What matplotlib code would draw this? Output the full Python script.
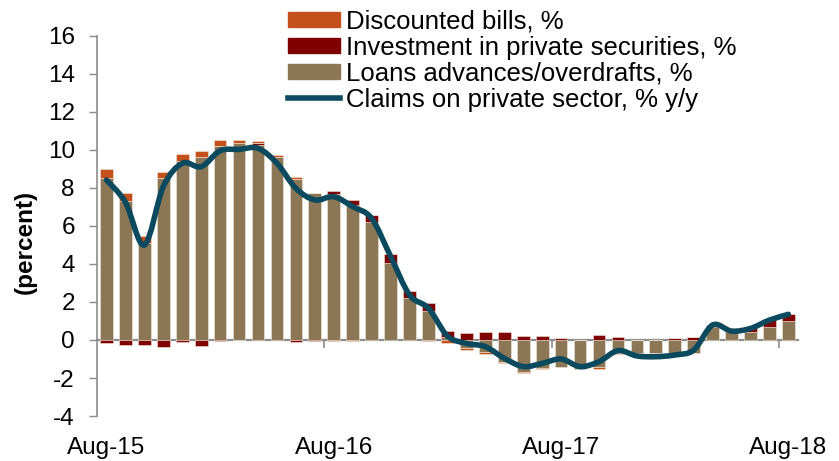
import numpy as np
import matplotlib.pyplot as plt
from matplotlib.path import Path
from matplotlib.patches import PathPatch, Patch
from matplotlib.lines import Line2D

plt.rcParams['font.family'] = ['Liberation Sans', 'DejaVu Sans']
plt.rcParams['axes.unicode_minus'] = False

# Monthly data, Aug-15 .. Aug-18
months = ['Aug-15', 'Sep-15', 'Oct-15', 'Nov-15', 'Dec-15', 'Jan-16', 'Feb-16',
          'Mar-16', 'Apr-16', 'May-16', 'Jun-16', 'Jul-16', 'Aug-16', 'Sep-16',
          'Oct-16', 'Nov-16', 'Dec-16', 'Jan-17', 'Feb-17', 'Mar-17', 'Apr-17',
          'May-17', 'Jun-17', 'Jul-17', 'Aug-17', 'Sep-17', 'Oct-17', 'Nov-17',
          'Dec-17', 'Jan-18', 'Feb-18', 'Mar-18', 'Apr-18', 'May-18', 'Jun-18',
          'Jul-18', 'Aug-18']

loans = [8.55, 7.33, 5.12, 8.50, 9.42, 9.61, 10.21, 10.35, 10.25, 9.65, 8.49,
         7.75, 7.68, 7.10, 6.23, 4.07, 2.21, 1.54, 0.18, -0.44, -0.61, -1.14,
         -1.67, -1.49, -1.40, -1.53, -1.44, -0.70, -0.70, -0.70, -0.84, -0.70,
         0.67, 0.44, 0.44, 0.70, 1.02]
securities = [-0.15, -0.25, -0.25, -0.35, -0.10, -0.30, -0.05, -0.02, 0.10, 0.0,
              -0.10, -0.03, 0.16, 0.27, 0.33, 0.47, 0.35, 0.39, 0.28, 0.35, 0.42,
              0.40, 0.21, 0.19, 0.09, 0.0, 0.25, 0.14, 0.0, 0.02, 0.09, 0.14,
              0.10, 0.09, 0.23, 0.35, 0.35]
bills = [0.45, 0.40, 0.35, 0.32, 0.37, 0.32, 0.30, 0.18, 0.10, 0.10, 0.07,
         0.0, -0.03, -0.05, 0.0, 0.0, 0.0, -0.05, -0.14, -0.09, -0.11, -0.06,
         -0.05, -0.05, 0.0, 0.0, -0.06, -0.05, 0.0, 0.0, 0.0, 0.0,
         0.0, 0.0, 0.0, 0.0, 0.0]
claims = [8.42, 7.25, 5.0, 8.07, 9.3, 9.12, 9.96, 10.03, 10.09, 9.3, 7.98,
          7.37, 7.54, 7.02, 6.4, 4.4, 2.37, 1.67, 0.21, -0.18, -0.35, -0.96,
          -1.40, -1.23, -1.0, -1.40, -1.14, -0.56, -0.84, -0.88, -0.79, -0.53,
          0.79, 0.47, 0.61, 1.05, 1.35]

c_bills = '#C4511C'
c_sec = '#7F0000'
c_loans = '#8B7756'
c_line = '#0B4A5E'
c_axis = '#8c8c8c'

fig = plt.figure(figsize=(8.39, 4.61), dpi=100)
ax = fig.add_axes([0.1156, 0.0976, 0.8354, 0.8244])

x = np.arange(len(months))
pos_base = np.zeros(len(x))
neg_base = np.zeros(len(x))
# positive parts stack upward from zero, negative parts downward
for vals, col in [(loans, c_loans), (securities, c_sec), (bills, c_bills)]:
    v = np.array(vals)
    base = np.where(v >= 0, pos_base, neg_base)
    ax.bar(x, v, bottom=base, width=0.67, color=col,
           edgecolor='#efe8dc', linewidth=0.4, zorder=2)
    pos_base += np.where(v >= 0, v, 0)
    neg_base += np.where(v < 0, v, 0)

# smoothed line (Catmull-Rom as cubic Bezier segments)
pts = np.column_stack([x, claims]).astype(float)
verts = [pts[0]]
codes = [Path.MOVETO]
for i in range(len(pts) - 1):
    p0 = pts[max(i - 1, 0)]
    p1 = pts[i]
    p2 = pts[i + 1]
    p3 = pts[min(i + 2, len(pts) - 1)]
    verts += [p1 + (p2 - p0) / 6, p2 - (p3 - p1) / 6, p2]
    codes += [Path.CURVE4] * 3
ax.add_patch(PathPatch(Path(verts, codes), facecolor='none', edgecolor=c_line,
                       linewidth=4, capstyle='round', zorder=3))

ax.set_xlim(-0.5, 36.5)
ax.set_ylim(-4, 16)
ax.set_yticks(range(-4, 17, 2))
ax.set_xticks([0, 12, 24, 36])
ax.set_xticklabels(['Aug-15', 'Aug-16', 'Aug-17', 'Aug-18'])
ax.tick_params(axis='x', length=0, pad=15, labelsize=17.5)
ax.tick_params(axis='y', direction='out', length=6, width=1, color=c_axis,
               labelsize=17.5, pad=10)

for side in ['top', 'right', 'bottom']:
    ax.spines[side].set_visible(False)
ax.spines['left'].set_color(c_axis)
ax.spines['left'].set_linewidth(1.2)

# zero axis with year separators
zero_ax = ax.secondary_xaxis(0.2)
zero_ax.set_xticks([11.5, 23.5, 35.5])
zero_ax.tick_params(direction='out', length=6, width=1.2, color=c_axis,
                    labelbottom=False)
zero_ax.spines['bottom'].set_color(c_axis)
zero_ax.spines['bottom'].set_linewidth(1.6)

ax.set_ylabel('(percent)', fontsize=17.5, fontweight='bold')
ax.yaxis.set_label_coords(-0.086, 0.457)

handles = [Patch(color=c_bills), Patch(color=c_sec), Patch(color=c_loans),
           Line2D([0], [0], color=c_line, linewidth=4)]
labels = ['Discounted bills, %', 'Investment in private securities, %',
          'Loans advances/overdrafts, %', 'Claims on private sector, % y/y']
fig.legend(handles, labels, loc='upper left', bbox_to_anchor=(0.343, 0.979),
           frameon=False, fontsize=18.5, handlelength=2.05, handleheight=0.55,
           handletextpad=0.2, labelspacing=0.08, borderaxespad=0,
           borderpad=0)

fig.savefig('out.png', dpi=100)
